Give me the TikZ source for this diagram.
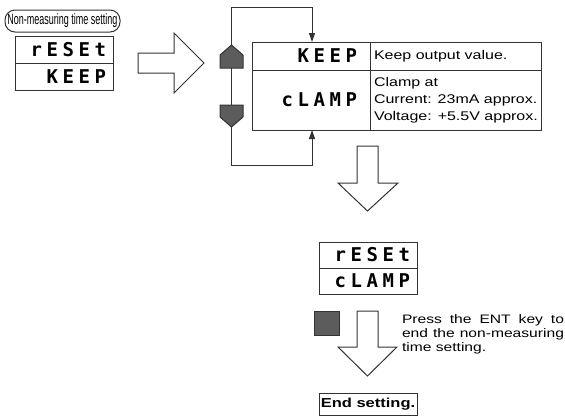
\documentclass[tikz,border=0pt]{standalone}
\usepackage{fontspec}
\setmainfont{Liberation Sans}[FakeStretch=1.27]
\newfontfamily\etiqfont{Liberation Sans}[FakeStretch=0.6]
\newfontfamily\segfont{DejaVu Sans Mono}[LetterSpace=24]
\usetikzlibrary{arrows.meta}
\definecolor{grisTecla}{HTML}{5C5C5C}
\definecolor{grisLinea}{HTML}{333333}

\begin{document}
\begin{tikzpicture}[x=1pt,y=-1pt,
    every node/.style={inner sep=0pt,outer sep=0pt},
    linea/.style={draw=grisLinea,line width=1pt},
    flechaG/.style={linea,fill=white,line join=miter},
    tecla/.style={linea,fill=grisTecla},
    conector/.style={linea,-{Triangle[length=9pt,width=6pt]}},
    celda/.style={linea,minimum width=#1,align=right,inner xsep=7pt,
      text width=#1-14pt,font=\fontsize{19}{19}\selectfont\segfont\bfseries},
    txt/.style={font=\fontsize{12.6}{17}\selectfont,align=left}]
  \useasboundingbox (0,0) rectangle (565,416);
  % modo
  \node[linea,rounded corners=10pt,minimum width=115pt,minimum height=22pt,
    font=\fontsize{15}{15}\selectfont\etiqfont] (modo) at (62.5,21)
    {Non-measuring time setting};
  \node[celda=98pt,minimum height=27pt,anchor=north] (d1a) at (64,36) {rESEt};
  \node[celda=98pt,minimum height=27pt,anchor=north] (d1b) at (d1a.south) {KEEP};
  \draw[flechaG] (138,53) -- (174,53) -- (174,33) -- (204,63) -- (174,93)
    -- (174,73) -- (138,73) -- cycle;
  % tabla
  \node[celda=118pt,minimum height=28pt,inner xsep=13pt,text width=92pt,anchor=north west]
    (k1) at (252,42) {KEEP};
  \node[celda=118pt,minimum height=60pt,inner xsep=13pt,text width=92pt,anchor=north]
    (k2) at (k1.south) {cLAMP};
  \node[linea,minimum width=171pt,minimum height=28pt,anchor=north west] (t1) at (k1.north east) {};
  \node[linea,minimum width=171pt,minimum height=60pt,anchor=north] (t2) at (t1.south) {};
  \node[txt,anchor=west] (t1txt) at (374,56) {Keep output value.};
  \node[txt,anchor=west] (t2txt) at (374,100)
    {Clamp at\\Current: 23mA approx.\\Voltage: +5.5V approx.};
  % teclas y lazo
  \coordinate (pArriba) at (231.5,45);
  \coordinate (pAbajo) at (231.5,127);
  \coordinate (lazoA) at (312,7);
  \coordinate (lazoB) at (312,165);
  \draw[linea] (pArriba) -- (pAbajo);
  \draw[conector] (pArriba) |- (lazoA) -- (lazoA |- k1.north);
  \draw[conector] (pAbajo) |- (lazoB) -- (lazoB |- k2.south);
  \draw[tecla] (220,68) -- (220,55) -- (pArriba) -- (243,55) -- (243,68) -- cycle;
  \draw[tecla] (220,105) -- (243,105) -- (243,117) -- (pAbajo) -- (220,117) -- cycle;
  \draw[flechaG] (357,146) -- (378,146) -- (378,183) -- (398,183) -- (367.5,211)
    -- (338,183) -- (357,183) -- cycle;
  % resultado
  \node[celda=98pt,minimum height=26pt,anchor=north] (d2a) at (368,242) {rESEt};
  \node[celda=98pt,minimum height=26pt,anchor=north] (d2b) at (d2a.south) {cLAMP};
  \node[tecla,minimum width=25pt,minimum height=24pt] (ent) at (326.5,323) {};
  \draw[flechaG] (357,311) -- (378,311) -- (378,347) -- (397,347) -- (367.5,376)
    -- (338,347) -- (357,347) -- cycle;
  \node[font=\fontsize{12.3}{14}\selectfont,text width=162pt,align=justify,anchor=north west]
    (nota) at (402,314.5)
    {Press the ENT key to\linebreak end the \mbox{non-measuring}\linebreak time setting.};
  \node[linea,minimum width=98pt,minimum height=22pt,
    font=\fontsize{13}{13}\selectfont\bfseries] (fin) at (368,404) {End setting.};
\end{tikzpicture}
\end{document}
